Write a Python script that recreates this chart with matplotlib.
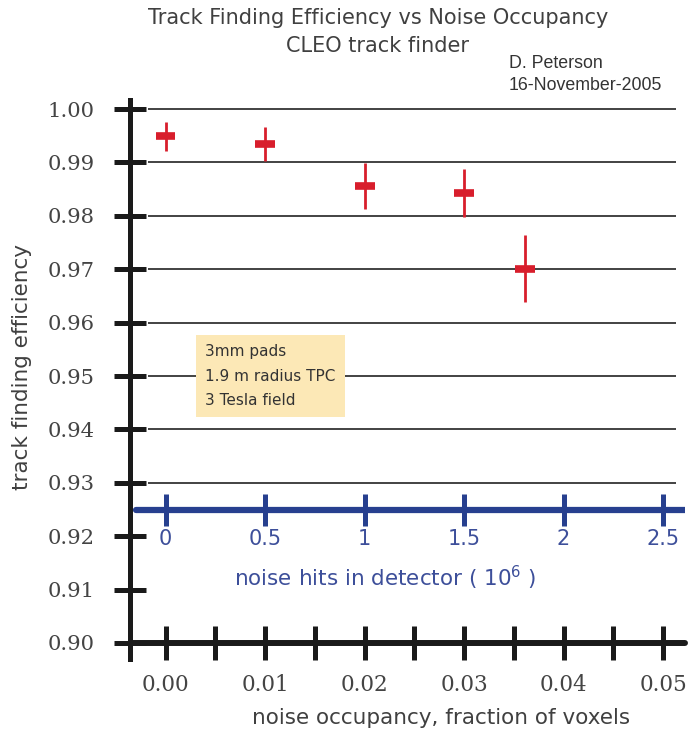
import numpy as np
import matplotlib
matplotlib.use('Agg')
import matplotlib.pyplot as plt

# measured points (occupancy, efficiency, error)
occupancy = [0.0, 0.01, 0.02, 0.03, 0.0361]
efficiency = [0.9949, 0.9935, 0.9856, 0.9843, 0.9701]
eff_err = [0.0027, 0.0032, 0.0043, 0.0045, 0.0063]
occ_err = [0.001, 0.001, 0.001, 0.001, 0.001]

# axis ticks
y_ticks = [0.90, 0.91, 0.92, 0.93, 0.94, 0.95, 0.96, 0.97, 0.98, 0.99, 1.00]
grid_levels = [0.93, 0.94, 0.95, 0.96, 0.97, 0.98, 0.99, 1.00]
x_major = [0.00, 0.01, 0.02, 0.03, 0.04, 0.05]
x_minor = [0.005, 0.015, 0.025, 0.035, 0.045]
hits_ticks = [0, 0.5, 1, 1.5, 2, 2.5]  # 10^6 noise hits
hits_labels = ['0', '0.5', '1', '1.5', '2', '2.5']
hits_to_occ = 0.02  # 0.5e6 hits <-> 0.01 occupancy
hits_axis_y = 0.925

box_lines = ['3mm pads', '1.9 m radius TPC', '3 Tesla field']

red = '#d81e2c'
blue = '#27408f'
blue_txt = '#3d4f9a'
grey_txt = '#404040'

fig = plt.figure(figsize=(7, 7.35), dpi=100)
ax = fig.add_axes([130/700, 1-659/735, 555/700, 559/735])
ax.set_xlim(-0.00357, 0.0522)
ax.set_ylim(0.897, 1.0017)

for s in ['top', 'right']:
    ax.spines[s].set_visible(False)
ax.spines['left'].set_linewidth(3.6)
ax.spines['left'].set_color('#1a1a1a')
ax.spines['bottom'].set_position(('data', 0.90))
ax.spines['bottom'].set_linewidth(4.3)
ax.spines['bottom'].set_color('#1a1a1a')
ax.spines['bottom'].set_capstyle('round')

ax.set_yticks(y_ticks)
ax.set_yticklabels(['%.2f' % v for v in y_ticks])
ax.set_xticks(x_major)
ax.set_xticklabels(['%.2f' % v for v in x_major])
ax.set_xticks(x_minor, minor=True)
ax.tick_params(axis='y', direction='inout', length=23, width=3.6, color='#1a1a1a',
               pad=14, labelsize=15.2, labelcolor='#444444')
ax.tick_params(axis='x', which='both', direction='inout', length=25, width=3.6,
               color='#1a1a1a', pad=10, labelsize=15.5, labelcolor='#444444')
for lab in ax.get_xticklabels() + ax.get_yticklabels():
    lab.set_family('DejaVu Serif')

# horizontal reference lines
ax.hlines(grid_levels, -0.0018, 0.0513, colors='#222222', linewidth=1.2, zorder=1)

# secondary axis: noise hits in detector
hits_x = [h * hits_to_occ for h in hits_ticks]
ax.plot([-0.003, 0.0522], [hits_axis_y, hits_axis_y], color=blue, linewidth=4.5,
        solid_capstyle='round', zorder=3)
ax.plot(hits_x, [hits_axis_y] * len(hits_x), linestyle='none', marker='|',
        markersize=23, markeredgewidth=3.6, color=blue, zorder=3)
for x, lab in zip(hits_x, hits_labels):
    ax.text(x, 0.9213, lab, ha='center', va='top', fontsize=15, color=blue_txt)
ax.text(0.0221, 0.9122, 'noise hits in detector ( $\\mathregular{10^6}$ )',
        ha='center', va='center', fontsize=15.5, color=blue_txt)

# data
ax.errorbar(occupancy, efficiency, yerr=eff_err, fmt='none', ecolor=red,
            elinewidth=2, capsize=0, zorder=4)
ax.errorbar(occupancy, efficiency, xerr=occ_err, fmt='none', ecolor=red,
            elinewidth=5.5, capsize=0, zorder=4)

# info box
ax.text(0.0040, 0.9560, '\n'.join(box_lines), ha='left', va='top', fontsize=11,
        color='#333333', linespacing=1.8, zorder=5,
        bbox=dict(boxstyle='square,pad=0.6', facecolor='#fce8b6', edgecolor='none'))

fig.text(0.54, 0.975, 'Track Finding Efficiency vs Noise Occupancy', ha='center',
         va='center', fontsize=15, color=grey_txt)
fig.text(0.54, 0.938, 'CLEO track finder', ha='center', va='center', fontsize=15,
         color=grey_txt)
fig.text(509/700, 1-64/735, 'D. Peterson', ha='left', va='center', fontsize=12.8,
         color='#333333', family='Liberation Sans')
fig.text(509/700, 1-86/735, '16-November-2005', ha='left', va='center', fontsize=12.8,
         color='#333333', family='Liberation Sans')

fig.text(0.031, 0.50, 'track finding efficiency', rotation=90, ha='center',
         va='center', fontsize=15.5, color=grey_txt)
fig.text(0.63, 0.023, 'noise occupancy, fraction of voxels', ha='center',
         va='center', fontsize=15.5, color=grey_txt)

fig.savefig('out.png', dpi=100)
